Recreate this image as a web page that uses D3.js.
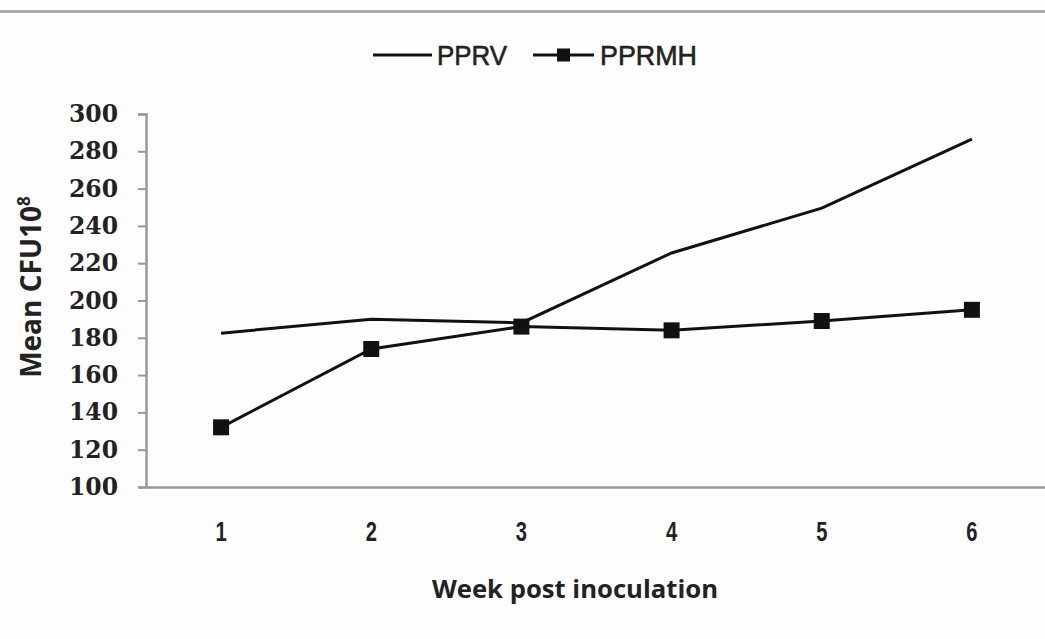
<!DOCTYPE html>
<html lang="en">
<head>
<meta charset="utf-8">
<title>Mean CFU by week</title>
<script type="text/javascript" src="https://d3js.org/d3.v7.min.js"></script>
<style>
  body { margin: 0; background: #fdfdfd; }
  svg { display: block; }
</style>
</head>
<body>
<div id="container"></div>
<script type="text/javascript">
// data
var weeks = ["1", "2", "3", "4", "5", "6"];
var pprv = [182.5, 190, 188, 225.5, 249.5, 286.5];
var pprmh = [132, 174, 186, 184, 189, 195];
var yTicks = [100, 120, 140, 160, 180, 200, 220, 240, 260, 280, 300];

var w = 1045, h = 639;
var svg = d3.select("#container").append("svg")
    .attr("width", w).attr("height", h)
    .style("background-color", "#fdfdfd");

// grey rule at the top
svg.append("rect").attr("x", 0).attr("y", 10).attr("width", w).attr("height", 3).attr("fill", "#aaa");

var x = d3.scaleBand().domain(weeks).range([146, 1047]);
var y = d3.scaleLinear().domain([100, 300]).range([487, 114]);
var cx = function(d, i) { return x(weeks[i]) + x.bandwidth() / 2; };

// y axis
var yAxis = svg.append("g")
    .attr("transform", "translate(146,0)")
    .call(d3.axisLeft(y).tickValues(yTicks).tickSize(8).tickPadding(20));
yAxis.select(".domain").attr("stroke", "#999").attr("stroke-width", 2.5);
yAxis.selectAll(".tick line").attr("stroke", "#999").attr("stroke-width", 2);
yAxis.selectAll(".tick text")
    .attr("fill", "#222")
    .style("font-family", "'DejaVu Serif', serif")
    .style("font-weight", "bold")
    .style("font-size", "23.5px");

// x axis, line only
var xAxis = svg.append("g")
    .attr("transform", "translate(0,487)")
    .call(d3.axisBottom(x).tickSize(0).tickPadding(34));
xAxis.select(".domain").attr("stroke", "#999").attr("stroke-width", 2.5);
xAxis.selectAll(".tick text")
    .attr("fill", "#222")
    .attr("transform", "scale(0.72,1)")
    .style("font-family", "'Liberation Sans', sans-serif")
    .style("font-weight", "bold")
    .style("font-size", "28px");

// lines
var line = d3.line().x(cx).y(function(d) { return y(d); });
svg.append("path").datum(pprv).attr("d", line)
    .attr("fill", "none").attr("stroke", "#111").attr("stroke-width", 3);
svg.append("path").datum(pprmh).attr("d", line)
    .attr("fill", "none").attr("stroke", "#111").attr("stroke-width", 3);

var ms = 16;
svg.selectAll("rect.marker").data(pprmh).enter().append("rect")
    .attr("class", "marker")
    .attr("x", function(d, i) { return cx(d, i) - ms / 2; })
    .attr("y", function(d) { return y(d) - ms / 2; })
    .attr("width", ms).attr("height", ms)
    .attr("fill", "#111");

// legend
var lg = svg.append("g");
lg.append("line").attr("x1", 373).attr("x2", 432).attr("y1", 55).attr("y2", 55)
    .attr("stroke", "#111").attr("stroke-width", 3);
lg.append("text").attr("x", 437).attr("y", 65).text("PPRV")
    .attr("textLength", 70).attr("lengthAdjust", "spacingAndGlyphs");
lg.append("line").attr("x1", 533).attr("x2", 594).attr("y1", 55).attr("y2", 55)
    .attr("stroke", "#111").attr("stroke-width", 3);
lg.append("rect").attr("x", 557).attr("y", 48.5).attr("width", 13).attr("height", 13).attr("fill", "#111");
lg.append("text").attr("x", 600).attr("y", 65).text("PPRMH")
    .attr("textLength", 97).attr("lengthAdjust", "spacingAndGlyphs");
lg.selectAll("text")
    .attr("fill", "#222")
    .attr("stroke", "#222").attr("stroke-width", 0.6)
    .style("font-family", "'Liberation Sans', sans-serif")
    .style("font-size", "28px");

// axis titles
svg.append("text")
    .attr("x", 575).attr("y", 598)
    .attr("text-anchor", "middle")
    .attr("textLength", 286).attr("lengthAdjust", "spacingAndGlyphs")
    .attr("fill", "#222")
    .style("font-family", "'Open Sans', sans-serif")
    .style("font-weight", "bold")
    .style("font-size", "25px")
    .text("Week post inoculation");

var yt = svg.append("text")
    .attr("transform", "translate(41,287) rotate(-90)")
    .attr("text-anchor", "middle")
    .attr("fill", "#222")
    .style("font-family", "'Open Sans', sans-serif")
    .style("font-weight", "bold")
    .style("font-size", "28px");
yt.append("tspan").text("Mean CFU10");
yt.append("tspan").attr("dy", -11).style("font-size", "17px").text("8");
</script>
</body>
</html>
